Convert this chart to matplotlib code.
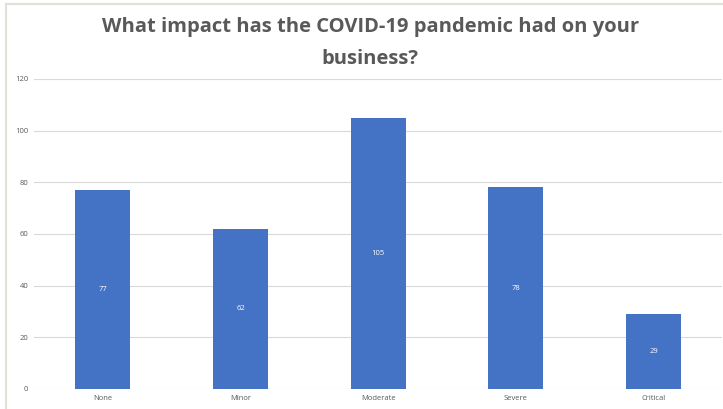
import matplotlib
matplotlib.use("Agg")
import matplotlib.pyplot as plt
from matplotlib.lines import Line2D

categories = ["None", "Minor", "Moderate", "Severe", "Critical"]
counts = [77, 62, 105, 78, 29]
yticks = [0, 20, 40, 60, 80, 100, 120]
title = "What impact has the COVID-19 pandemic had on your\nbusiness?"

bar_color = "#4472c4"
text_grey = "#595959"

fig = plt.figure(figsize=(7.23, 4.09), dpi=100)
ax = fig.add_axes([0.047, 0.049, 0.952, 0.758])

x = list(range(len(categories)))
ax.bar(x, counts, width=0.4, color=bar_color, zorder=3)

for xi, v in zip(x, counts):
    ax.text(xi, v / 2, str(v), ha="center", va="center", color="white",
            fontsize=5.5, family="Open Sans", zorder=4)

ax.set_xlim(-0.5, len(categories) - 0.5)
ax.set_ylim(0, 120)
ax.set_yticks(yticks)
ax.set_xticks(x)
ax.set_xticklabels(categories)
ax.tick_params(axis="both", length=0, labelsize=5.5, labelcolor=text_grey, pad=4)
for lab in ax.get_xticklabels() + ax.get_yticklabels():
    lab.set_family("Open Sans")
ax.grid(axis="y", color="#d9d9d9", linewidth=0.8, zorder=0)
for s in ax.spines.values():
    s.set_visible(False)

fig.text(0.512, 0.895, title, ha="center", va="center", fontsize=14.5,
         fontweight="bold", color=text_grey, family="Open Sans", linespacing=1.75)

# chart frame (left and top edges)
fig.add_artist(Line2D([6 / 723, 6 / 723], [0, 1 - 4 / 409], transform=fig.transFigure,
                      color="#e3e0d8", linewidth=1.5))
fig.add_artist(Line2D([6 / 723, 1], [1 - 4 / 409, 1 - 4 / 409], transform=fig.transFigure,
                      color="#e3e0d8", linewidth=1.5))

fig.savefig("out.png", dpi=100)
